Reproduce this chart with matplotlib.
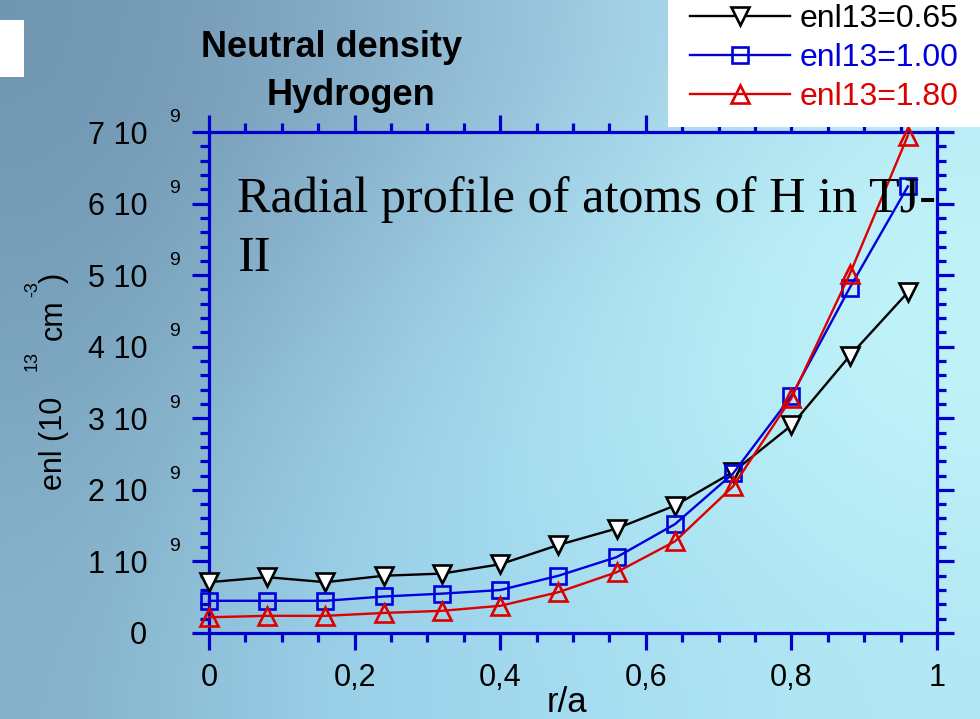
import numpy as np
import matplotlib
matplotlib.use("Agg")
from matplotlib import pyplot as plt
from matplotlib.patches import Rectangle
from matplotlib.ticker import MultipleLocator
import matplotlib.transforms as mtransforms

# radial positions and neutral density for the three enl13 cases
R_A = [0.0, 0.08, 0.16, 0.24, 0.32, 0.40, 0.48, 0.56, 0.64, 0.72, 0.80, 0.88, 0.96]
ENL_065 = [0.71e9, 0.78e9, 0.71e9, 0.80e9, 0.83e9, 0.96e9, 1.23e9, 1.46e9, 1.78e9, 2.25e9, 2.90e9, 3.87e9, 4.76e9]
ENL_100 = [0.45e9, 0.45e9, 0.45e9, 0.51e9, 0.55e9, 0.60e9, 0.80e9, 1.06e9, 1.52e9, 2.23e9, 3.31e9, 4.82e9, 6.24e9]
ENL_180 = [0.22e9, 0.24e9, 0.24e9, 0.28e9, 0.31e9, 0.38e9, 0.57e9, 0.85e9, 1.28e9, 2.05e9, 3.28e9, 5.01e9, 6.95e9]
LABELS = ["enl13=0.65", "enl13=1.00", "enl13=1.80"]

XTICKS = [0, 0.2, 0.4, 0.6, 0.8, 1.0]
XTICK_TEXT = ["0", "0,2", "0,4", "0,6", "0,8", "1"]
YTICKS = [0, 1e9, 2e9, 3e9, 4e9, 5e9, 6e9, 7e9]
YTICK_TEXT = ["0", "1 10", "2 10", "3 10", "4 10", "5 10", "6 10", "7 10"]

AXIS_BLUE = "#0000cc"
BLUE = "#0000dd"
RED = "#dd0000"

# slide background, rows top -> bottom, columns left -> right
BG = np.array([
    [[112, 150, 178], [128, 165, 192], [148, 190, 215], [168, 215, 235], [185, 235, 245]],
    [[118, 158, 185], [138, 180, 205], [160, 210, 232], [180, 235, 245], [195, 245, 250]],
    [[128, 170, 195], [148, 198, 222], [165, 220, 240], [178, 235, 245], [190, 240, 248]],
    [[134, 178, 202], [152, 207, 232], [160, 215, 238], [170, 225, 242], [178, 232, 245]],
]) / 255.0

# y axis title pieces: text, pixel x of baseline, pixel y of start, size
YLABEL_PARTS = [
    ("enl (10", 62, 490, 22),
    ("13", 37, 371, 13),
    ("cm", 62, 340, 22),
    ("-3", 37.5, 297, 13),
    (")", 62, 283, 22),
]

plt.rcParams["font.family"] = "Liberation Sans"

W, H = 980, 719
fig = plt.figure(figsize=(W / 100, H / 100), dpi=100)

bg = fig.add_axes([0, 0, 1, 1])
bg.imshow(BG, extent=[0, 1, 0, 1], aspect="auto", interpolation="bicubic", origin="upper")
bg.set_axis_off()

ax = fig.add_axes([209 / W, 86 / H, 728 / W, 501 / H])
ax.set_facecolor("none")

ax.plot(R_A, ENL_065, color="black", lw=1.7, marker="v", ms=12.5, mfc="white",
        mec="black", mew=1.9, label=LABELS[0], clip_on=False, zorder=3)
ax.plot(R_A, ENL_100, color=BLUE, lw=1.7, marker="s", ms=12, mfc="none",
        mec=BLUE, mew=1.9, label=LABELS[1], clip_on=False, zorder=3)
ax.plot(R_A, ENL_180, color=RED, lw=1.7, marker="^", ms=12.5, mfc="none",
        mec=RED, mew=1.9, label=LABELS[2], clip_on=False, zorder=3)

ax.set_xlim(0, 1)
ax.set_ylim(0, 7e9)
ax.set_xticks(XTICKS, XTICK_TEXT)
ax.set_yticks(YTICKS, YTICK_TEXT)
ax.xaxis.set_minor_locator(MultipleLocator(0.05))
ax.yaxis.set_minor_locator(MultipleLocator(0.2e9))

for s in ax.spines.values():
    s.set_color(AXIS_BLUE)
    s.set_linewidth(2.3)
ax.tick_params(which="both", direction="out", top=True, right=True,
               color=AXIS_BLUE, width=2.3)
ax.tick_params(which="major", length=12.5)
ax.tick_params(which="minor", length=6.5)
ax.tick_params(axis="x", labelsize=22, pad=9)
ax.tick_params(axis="y", labelsize=22, pad=32)

# exponent of the y tick labels
trans = mtransforms.blended_transform_factory(ax.transAxes, ax.transData)
for v in YTICKS[1:]:
    ax.annotate("9", xy=(0, v), xycoords=trans, xytext=(-25, 10.8),
                textcoords="offset points", ha="center", va="center",
                fontsize=14, annotation_clip=False)

for txt, px, py, size in YLABEL_PARTS:
    fig.text(px / W, 1 - py / H, txt, rotation=90, rotation_mode="anchor",
             ha="left", va="baseline", fontsize=size)

ax.text(0.492, -0.158, "r/a", transform=ax.transAxes, ha="center",
        va="baseline", fontsize=25)

fig.text(331.7 / W, 1 - 57.3 / H, "Neutral density", ha="center",
         va="baseline", fontsize=26, fontweight="bold")
fig.text(351 / W, 1 - 105 / H, "Hydrogen", ha="center",
         va="baseline", fontsize=26, fontweight="bold")

fig.text(237 / W, 1 - 211.7 / H, "Radial profile of atoms of H in TJ-",
         ha="left", va="baseline", fontsize=36.2, family="Liberation Serif")
fig.text(237 / W, 1 - 271 / H, "II",
         ha="left", va="baseline", fontsize=36.2, family="Liberation Serif")

# white boxes on the slide
fig.add_artist(Rectangle((0, 1 - 77 / H), 24 / W, 57 / H,
                         transform=fig.transFigure, facecolor="white",
                         edgecolor="none", zorder=3))
fig.add_artist(Rectangle((668 / W, 1 - 127 / H), 312 / W, 127 / H,
                         transform=fig.transFigure, facecolor="white",
                         edgecolor="none", zorder=3))

fig.legend(loc="upper left", bbox_to_anchor=(690 / W, 1 - 4 / H), frameon=False,
           borderaxespad=0, borderpad=0, fontsize=23, handlelength=3.13,
           handletextpad=0.31, labelspacing=0.28, labelcolor="linecolor")

fig.savefig("out.png", dpi=100)
